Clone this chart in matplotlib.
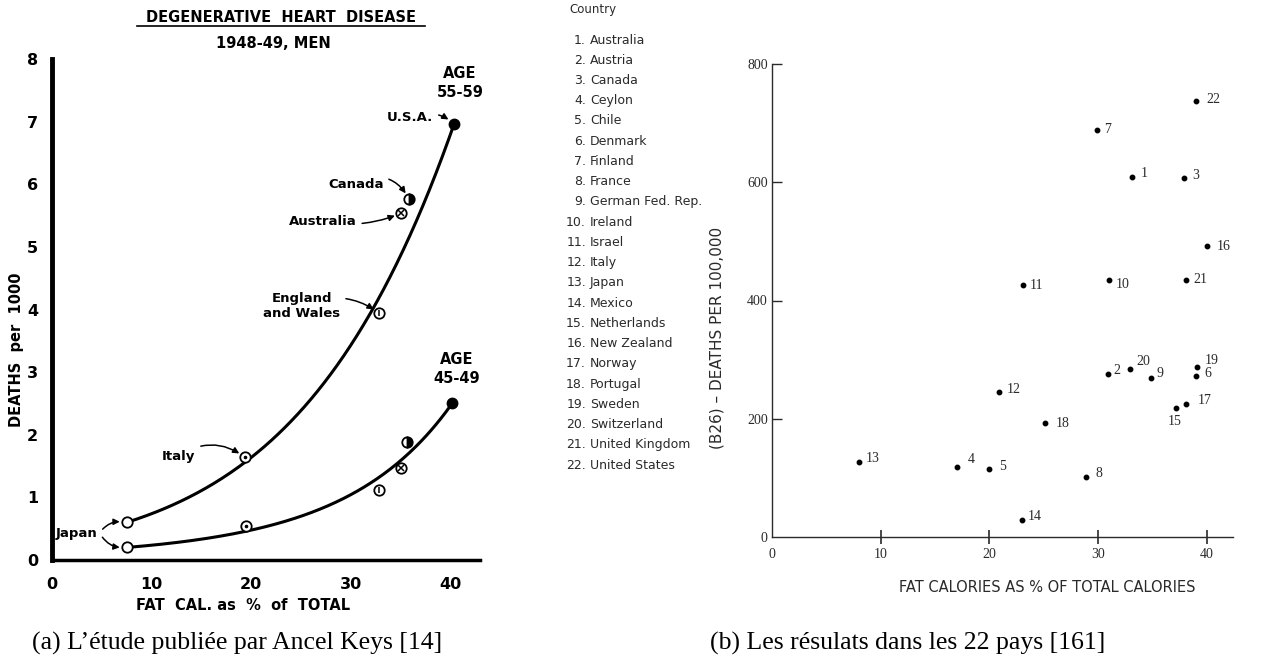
import numpy as np
import matplotlib
matplotlib.use('Agg')
import matplotlib.pyplot as plt
from matplotlib.lines import Line2D

# ---- (a) Keys 1953, degenerative heart disease, men 1948-49 ----
keys_countries = ['Japan', 'Italy', 'England and Wales', 'Australia', 'Canada', 'U.S.A.']
fat_pct_55 = [7.5, 19.4, 32.9, 35.1, 35.9, 40.4]
deaths_55 = [0.60, 1.64, 3.94, 5.54, 5.76, 6.97]
fat_pct_45 = [7.5, 19.5, 32.9, 35.1, 35.7, 40.2]
deaths_45 = [0.20, 0.55, 1.11, 1.47, 1.89, 2.51]
# points the hand drawn curves go through
on_curve_55 = ['Japan', 'Italy', 'England and Wales', 'U.S.A.']
on_curve_45 = ['Japan', 'Italy', 'England and Wales', 'Australia', 'U.S.A.']

# ---- (b) 22 countries ----
countries = ['Australia', 'Austria', 'Canada', 'Ceylon', 'Chile', 'Denmark', 'Finland',
             'France', 'German Fed. Rep.', 'Ireland', 'Israel', 'Italy', 'Japan', 'Mexico',
             'Netherlands', 'New Zealand', 'Norway', 'Portugal', 'Sweden', 'Switzerland',
             'United Kingdom', 'United States']
fat_cal = [33.1, 30.9, 37.9, 17.0, 20.0, 39.0, 29.9, 28.9, 34.9, 31.0, 23.1,
           20.9, 8.0, 23.0, 37.2, 40.0, 38.1, 25.1, 39.1, 32.9, 38.1, 39.0]
deaths_100k = [609, 275, 607, 118, 115, 273, 689, 102, 269, 434, 426,
               245, 127, 28, 218, 492, 225, 192, 288, 284, 435, 738]

W, H = 1284, 660
fig = plt.figure(figsize=(W / 100, H / 100), dpi=100)
fig.patch.set_facecolor('white')

def fx(px):
    return px / W

def fy(py):
    return 1 - py / H

#---------------- left chart ----------------
lfont = dict(family='DejaVu Sans', weight='bold', color='black')
axl = fig.add_axes([fx(52), fy(560), fx(480 - 52), (560 - 59) / H])
axl.set_xlim(0, 43)
axl.set_ylim(0, 8)
axl.spines['top'].set_visible(False)
axl.spines['right'].set_visible(False)
axl.spines['left'].set_linewidth(3.5)
axl.spines['bottom'].set_linewidth(2.5)
axl.set_xticks([0, 10, 20, 30, 40])
axl.set_yticks(range(9))
axl.tick_params(length=0, labelsize=11.5)
axl.tick_params(axis='x', pad=12)
axl.tick_params(axis='y', pad=10)
for lab in axl.get_xticklabels() + axl.get_yticklabels():
    lab.set_fontweight('bold')

def fit_curve(xs, ys, names, keep):
    idx = [names.index(k) for k in keep]
    px = np.array([xs[i] for i in idx])
    py = np.log(np.array([ys[i] for i in idx]))
    w = np.ones(len(px))
    w[0] = w[-1] = 6  # pin the ends like the hand drawn line
    c = np.polyfit(px, py, 2, w=w)
    xx = np.linspace(px.min(), px.max(), 200)
    return xx, np.exp(np.polyval(c, xx))

for xs, ys, keep in [(fat_pct_55, deaths_55, on_curve_55), (fat_pct_45, deaths_45, on_curve_45)]:
    xx, yy = fit_curve(xs, ys, keys_countries, keep)
    axl.plot(xx, yy, color='black', lw=2.2, zorder=2)

def draw_marker(ax, x, y, name):
    ms = 7.5
    if name == 'U.S.A.':
        ax.plot(x, y, 'o', ms=ms, mfc='black', mec='black', zorder=4)
        return
    if name == 'Canada':
        ax.plot(x, y, 'o', ms=ms, fillstyle='right', mfc='black', mfcalt='white',
                mec='black', mew=1.3, zorder=4)
        return
    ax.plot(x, y, 'o', ms=ms, mfc='white', mec='black', mew=1.3, zorder=4)
    inner = {'Italy': '.', 'England and Wales': '|', 'Australia': 'x'}
    if name in inner:
        ax.plot(x, y, inner[name], ms=4.5 if name != 'Italy' else 3, color='black',
                mew=1.1, zorder=5)

for i, name in enumerate(keys_countries):
    draw_marker(axl, fat_pct_55[i], deaths_55[i], name)
    draw_marker(axl, fat_pct_45[i], deaths_45[i], name)

arr = dict(arrowstyle='-|>', color='black', lw=1.1, mutation_scale=9, shrinkB=5)
def note(text, xy, xytext, rad, ha='right', **kw):
    axl.annotate(text, xy=xy, xytext=xytext, ha=ha, va='center', fontsize=9.5,
                 arrowprops=dict(arr, connectionstyle='arc3,rad=%s' % rad), **lfont, **kw)

note('U.S.A.', (fat_pct_55[5], deaths_55[5]), (38.3, 7.07), -0.3)
note('Canada', (fat_pct_55[4], deaths_55[4]), (33.3, 6.0), -0.5)
note('Australia', (fat_pct_55[3], deaths_55[3]), (30.6, 5.40), 0.15)
note('England\nand Wales', (fat_pct_55[2], deaths_55[2]), (25.1, 4.05), -0.3, ha='center',
     linespacing=1.2)
note('Italy', (fat_pct_55[1], deaths_55[1]), (14.4, 1.66), -0.35)
axl.text(0.4, 0.42, 'Japan', ha='left', va='center', fontsize=9.5, **lfont)
axl.annotate('', xy=(fat_pct_55[0], deaths_55[0]), xytext=(4.9, 0.46),
             arrowprops=dict(arr, connectionstyle='arc3,rad=-0.3'))
axl.annotate('', xy=(fat_pct_45[0], deaths_45[0]), xytext=(4.9, 0.40),
             arrowprops=dict(arr, connectionstyle='arc3,rad=0.3'))

axl.text(41.0, 7.62, 'AGE\n55-59', ha='center', va='center', fontsize=10.5,
         linespacing=1.3, **lfont)
axl.text(40.7, 3.05, 'AGE\n45-49', ha='center', va='center', fontsize=10.5,
         linespacing=1.3, **lfont)

fig.text(fx(281), fy(18), 'DEGENERATIVE  HEART  DISEASE', ha='center', va='center',
         fontsize=10.5, **lfont)
fig.add_artist(Line2D([fx(137), fx(425)], [fy(26), fy(26)], color='black', lw=1.2))
fig.text(fx(273), fy(44), '1948-49, MEN', ha='center', va='center', fontsize=10.5, **lfont)
fig.text(fx(243), fy(605), 'FAT  CAL. as  %  of  TOTAL', ha='center', va='center',
         fontsize=10.5, **lfont)
fig.text(fx(17), fy(350), 'DEATHS  per  1000', ha='center', va='center', rotation=90,
         fontsize=10.5, **lfont)

#---------------- country list ----------------
gray = '#2a2a2a'
fig.text(fx(569), fy(10), 'Country', ha='left', va='center', fontsize=8.5,
         family='DejaVu Sans', color=gray)
for i, name in enumerate(countries):
    y = fy(40 + i * 20.24)
    fig.text(fx(586), y, '%d.' % (i + 1), ha='right', va='center', fontsize=9,
             family='DejaVu Sans', color=gray)
    fig.text(fx(590), y, name, ha='left', va='center', fontsize=9,
             family='DejaVu Sans', color=gray)

#---------------- right chart ----------------
serif = 'Liberation Serif'
axr = fig.add_axes([fx(772), fy(537), fx(1233 - 772), (537 - 64) / H])
axr.set_xlim(0, 42.4)
axr.set_ylim(0, 800)
axr.spines['top'].set_visible(False)
axr.spines['right'].set_visible(False)
for s in ['left', 'bottom']:
    axr.spines[s].set_color(gray)
    axr.spines[s].set_linewidth(1.0)
axr.set_xticks([0, 10, 20, 30, 40])
axr.set_yticks([0, 200, 400, 600, 800])
axr.tick_params(axis='x', direction='inout', length=10, width=1.2, color=gray, pad=3,
                labelsize=10, labelcolor=gray)
axr.tick_params(axis='y', direction='in', length=7, width=1.0, color=gray, pad=3,
                labelsize=10, labelcolor=gray)
for lab in axr.get_xticklabels() + axr.get_yticklabels():
    lab.set_family(serif)
axr.xaxis.get_major_ticks()[0].tick1line.set_visible(False)
axr.yaxis.get_major_ticks()[0].tick1line.set_visible(False)

axr.plot(fat_cal, deaths_100k, 'o', ms=3.2, color='black', ls='none')

label_shift = {2: (5, 4), 20: (7, 8), 9: (5, 4), 19: (8, 6), 6: (8, 2), 1: (9, 3),
               3: (8, 3), 10: (7, -4), 12: (7, 3), 17: (11, 3), 18: (11, 0), 4: (11, 8),
               5: (10, 3), 8: (9, 3), 14: (6, 4), 13: (7, 3), 22: (10, 1), 16: (10, 0)}
for i, (x, y) in enumerate(zip(fat_cal, deaths_100k)):
    n = i + 1
    if n == 15:
        axr.annotate(str(n), (x, y), xytext=(-2, -13), textcoords='offset pixels',
                     ha='center', va='center', fontsize=10, family=serif, color=gray)
        continue
    dx, dy = label_shift.get(n, (7, 0))
    axr.annotate(str(n), (x, y), xytext=(dx, dy), textcoords='offset pixels',
                 ha='left', va='center', fontsize=10, family=serif, color=gray)

fig.text(fx(1047), fy(587), 'FAT CALORIES AS % OF TOTAL CALORIES', ha='center',
         va='center', fontsize=10.5, family='DejaVu Sans', color=gray)
fig.text(fx(717), fy(338), '(B26) – DEATHS PER 100,000', ha='center', va='center',
         rotation=90, fontsize=11, family='DejaVu Sans', color=gray)

#---------------- captions ----------------
fig.text(fx(237), fy(643), '(a) L\u2019étude publiée par Ancel Keys [14]', ha='center',
         va='center', fontsize=18.5, family=serif, color='black')
fig.text(fx(908), fy(643), '(b) Les résulats dans les 22 pays [161]', ha='center',
         va='center', fontsize=18.5, family=serif, color='black')

fig.savefig('out.png', dpi=100, facecolor='white')
